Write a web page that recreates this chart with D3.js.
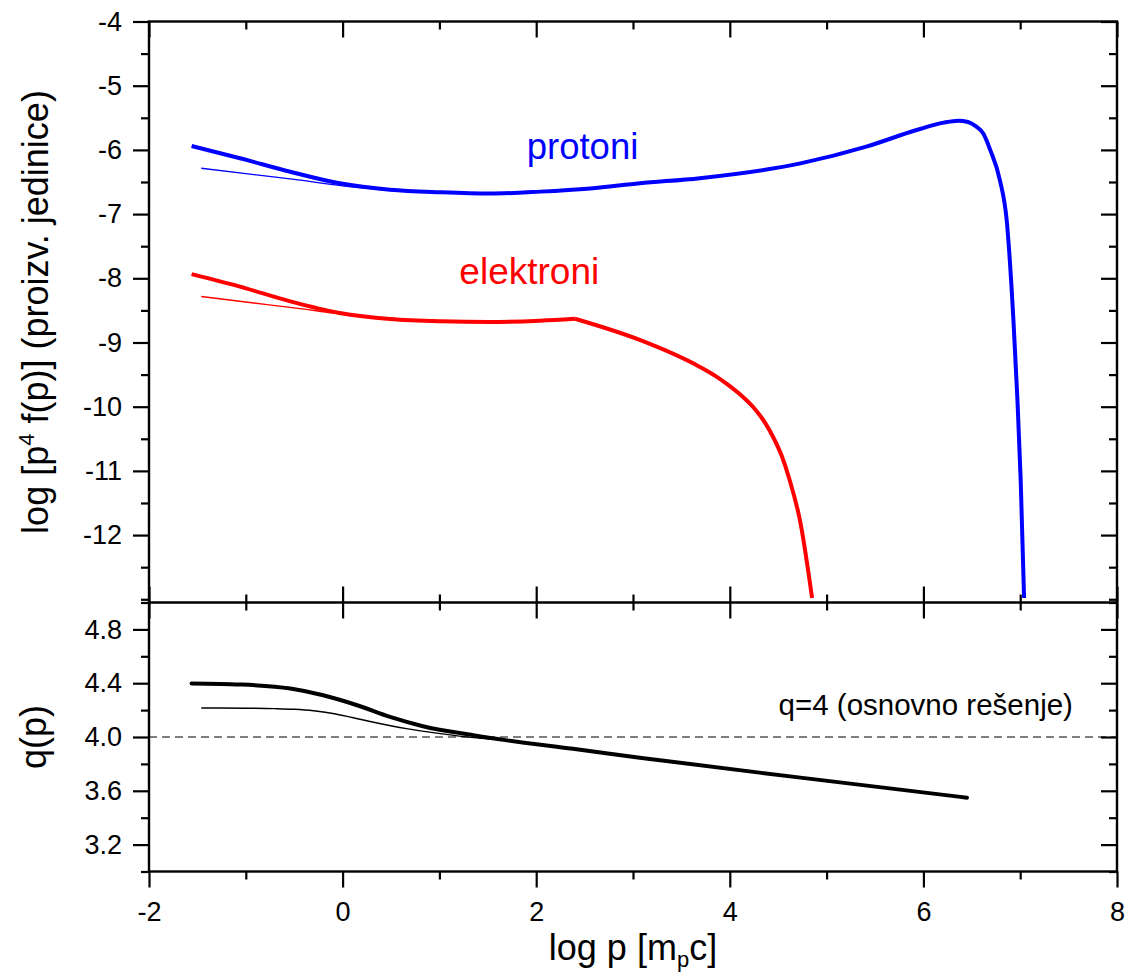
<!DOCTYPE html>
<html>
<head>
<meta charset="utf-8">
<script src="https://cdn.jsdelivr.net/npm/d3@7"></script>
<style>
  body { margin: 0; background: #fff; }
  svg { display: block; font-family: "Liberation Sans", Arial, sans-serif; }
</style>
</head>
<body>
<div id="chart"></div>
<script>
// ---- data ----
// upper panel: log [p^4 f(p)] vs log p
const protonThickX = [-1.56, -1.06, -0.54, -0.03, 0.49, 1.01, 1.52, 2.04, 2.56, 3.07, 3.69, 4.73, 5.41, 5.93, 6.21, 6.36, 6.46, 6.54, 6.62, 6.69, 6.79, 6.86, 6.93, 6.97, 7.005, 7.04];
const protonThickY = [-5.94, -6.13, -6.34, -6.52, -6.62, -6.66, -6.68, -6.65, -6.60, -6.52, -6.44, -6.21, -5.95, -5.69, -5.575, -5.545, -5.565, -5.63, -5.75, -6.00, -6.47, -7.09, -8.65, -9.85, -11.14, -12.98];

const protonThinX = [-1.46, -1.0, -0.5, 0.0, 0.5, 1.0, 1.52, 2.04, 2.56, 3.07, 3.69, 4.73, 5.41, 5.93, 6.21, 6.36, 6.46, 6.54, 6.62, 6.69, 6.79, 6.86, 6.93, 6.97, 7.005, 7.04];
const protonThinY = [-6.285, -6.37, -6.46, -6.56, -6.63, -6.665, -6.68, -6.65, -6.60, -6.52, -6.44, -6.21, -5.95, -5.69, -5.575, -5.545, -5.565, -5.63, -5.75, -6.00, -6.47, -7.09, -8.65, -9.85, -11.14, -12.98];

// electrons: two pieces, the curve has a sharp break at log p ~ 2.4
const electronLowX = [-1.56, -1.06, -0.54, -0.03, 0.49, 1.01, 1.52, 2.04, 2.40];
const electronLowY = [-7.935, -8.13, -8.36, -8.54, -8.635, -8.67, -8.68, -8.66, -8.63];
const electronHighX = [2.40, 3.07, 3.69, 3.85, 4.00, 4.13, 4.25, 4.36, 4.45, 4.54, 4.61, 4.73, 4.85];
const electronHighY = [-8.63, -8.96, -9.38, -9.52, -9.68, -9.84, -10.02, -10.24, -10.48, -10.78, -11.10, -11.81, -12.98];

const electronThinX = [-1.46, -1.0, -0.5, 0.0, 0.5, 1.0, 1.52, 2.04];
const electronThinY = [-8.283, -8.37, -8.46, -8.56, -8.63, -8.665, -8.68, -8.66];

// lower panel: q(p)
const qThickX = [-1.56, -1.06, -0.54, -0.2, 0.15, 0.49, 0.83, 1.35, 1.70, 2.38, 3.07, 4.73, 6.45];
const qThickY = [4.398, 4.39, 4.36, 4.31, 4.236, 4.149, 4.08, 4.013, 3.975, 3.913, 3.846, 3.698, 3.549];
const qThinX = [-1.46, -1.0, -0.7, -0.5, -0.3, -0.1, 0.1, 0.32, 0.66, 1.01, 1.35, 1.70, 2.38];
const qThinY = [4.216, 4.214, 4.211, 4.206, 4.195, 4.175, 4.145, 4.11, 4.062, 4.025, 3.995, 3.975, 3.913];

const qReference = 4;

// ticks
const xMajor = [-2, 0, 2, 4, 6, 8];
const xMinor = [-1, 1, 3, 5, 7];
const topMajor = [-4, -5, -6, -7, -8, -9, -10, -11, -12];
const topMinor = [-4.5, -5.5, -6.5, -7.5, -8.5, -9.5, -10.5, -11.5, -12.5, -13];
const botMajor = [3.2, 3.6, 4.0, 4.4, 4.8];
const botMinor = [3.0, 3.4, 3.8, 4.2, 4.6, 5.0];

// ---- layout ----
const W = 1131, H = 979;
const left = 149, right = 1117;
const topY0 = 21.5, split = 602.5, botY1 = 871.5;
const majorLen = 16, minorLen = 8;

const svg = d3.select("#chart").append("svg")
    .attr("width", W).attr("height", H);

const x = d3.scaleLinear().domain([-2, 8]).range([left, right]);
const yTop = d3.scaleLinear().domain([-13.05, -4]).range([split, topY0]);
const yBot = d3.scaleLinear().domain([3, 5]).range([botY1, split]);

// clip paths for each panel
const defs = svg.append("defs");
defs.append("clipPath").attr("id", "clipTop")
    .append("rect").attr("x", left).attr("y", topY0).attr("width", right - left).attr("height", split - topY0);
defs.append("clipPath").attr("id", "clipBot")
    .append("rect").attr("x", left).attr("y", split).attr("width", right - left).attr("height", botY1 - split);

const zip = (xs, ys) => xs.map((v, i) => [v, ys[i]]);

const lineTop = d3.line().x(d => x(d[0])).y(d => yTop(d[1])).curve(d3.curveMonotoneX);
const lineBot = d3.line().x(d => x(d[0])).y(d => yBot(d[1])).curve(d3.curveMonotoneX);

// ---- curves ----
const gTop = svg.append("g").attr("clip-path", "url(#clipTop)");

gTop.append("path").datum(zip(protonThinX, protonThinY))
    .attr("d", lineTop).attr("fill", "none").attr("stroke", "#0000ff").attr("stroke-width", 1.4);
gTop.append("path").datum(zip(protonThickX, protonThickY))
    .attr("d", lineTop).attr("fill", "none").attr("stroke", "#0000ff").attr("stroke-width", 4);

gTop.append("path").datum(zip(electronThinX, electronThinY))
    .attr("d", lineTop).attr("fill", "none").attr("stroke", "#ff0000").attr("stroke-width", 1.4);
[zip(electronLowX, electronLowY), zip(electronHighX, electronHighY)].forEach(seg => {
    gTop.append("path").datum(seg)
        .attr("d", lineTop).attr("fill", "none").attr("stroke", "#ff0000")
        .attr("stroke-width", 4).attr("stroke-linejoin", "miter");
});

const gBot = svg.append("g").attr("clip-path", "url(#clipBot)");

// q = 4 reference
gBot.append("line")
    .attr("x1", x(-2)).attr("x2", x(8))
    .attr("y1", yBot(qReference)).attr("y2", yBot(qReference))
    .attr("stroke", "#555").attr("stroke-width", 1.3).attr("stroke-dasharray", "8,5");

gBot.append("path").datum(zip(qThinX, qThinY))
    .attr("d", lineBot).attr("fill", "none").attr("stroke", "#000").attr("stroke-width", 1.4);
gBot.append("path").datum(zip(qThickX, qThickY))
    .attr("d", lineBot).attr("fill", "none").attr("stroke", "#000").attr("stroke-width", 4)
    .attr("stroke-linecap", "round");

// ---- axes ----
const axisStyle = g => {
    g.select(".domain").remove();
    g.selectAll(".tick line").attr("stroke", "#000").attr("stroke-width", 2.2);
    g.selectAll(".tick text")
        .attr("fill", "#000")
        .style("font-size", "27px")
        .style("font-family", "\"Liberation Sans\", Arial, sans-serif");
};

function drawAxis(axisFn, scale, values, len, transform, labelled, fmt, pad) {
    const a = axisFn(scale).tickValues(values).tickSize(len).tickSizeOuter(0)
        .tickPadding(pad || 8)
        .tickFormat(labelled ? fmt : () => "");
    svg.append("g").attr("transform", transform).call(a).call(axisStyle);
}

const fmtInt = d => String(d);
const fmtDec = d3.format(".1f");

// left axes (outward ticks)
drawAxis(d3.axisLeft, yTop, topMajor, majorLen, `translate(${left},0)`, true, fmtInt, 11);
drawAxis(d3.axisLeft, yTop, topMinor, minorLen, `translate(${left},0)`, false);
drawAxis(d3.axisLeft, yBot, botMajor, majorLen, `translate(${left},0)`, true, fmtDec, 11);
drawAxis(d3.axisLeft, yBot, botMinor, minorLen, `translate(${left},0)`, false);

// right axes (inward ticks)
drawAxis(d3.axisRight, yTop, topMajor, -majorLen, `translate(${right},0)`, false);
drawAxis(d3.axisRight, yTop, topMinor, -minorLen, `translate(${right},0)`, false);
drawAxis(d3.axisRight, yBot, botMajor, -majorLen, `translate(${right},0)`, false);
drawAxis(d3.axisRight, yBot, botMinor, -minorLen, `translate(${right},0)`, false);

// top border (inward ticks)
drawAxis(d3.axisTop, x, xMajor, -majorLen, `translate(0,${topY0})`, false);
drawAxis(d3.axisTop, x, xMinor, -minorLen, `translate(0,${topY0})`, false);

// shared middle border: ticks cross both sides
drawAxis(d3.axisTop, x, xMajor, majorLen, `translate(0,${split})`, false);
drawAxis(d3.axisTop, x, xMinor, minorLen, `translate(0,${split})`, false);
drawAxis(d3.axisBottom, x, xMajor, majorLen, `translate(0,${split})`, false);
drawAxis(d3.axisBottom, x, xMinor, minorLen, `translate(0,${split})`, false);

// bottom axis (outward ticks)
drawAxis(d3.axisBottom, x, xMajor, majorLen, `translate(0,${botY1})`, true, fmtInt, 14);
drawAxis(d3.axisBottom, x, xMinor, minorLen, `translate(0,${botY1})`, false);

// frame lines
const frame = svg.append("g").attr("stroke", "#000").attr("stroke-width", 2.4).attr("fill", "none");
frame.append("rect").attr("x", left).attr("y", topY0).attr("width", right - left).attr("height", botY1 - topY0);
frame.append("line").attr("x1", left).attr("x2", right).attr("y1", split).attr("y2", split);

// ---- labels ----
const font = "\"Liberation Sans\", Arial, sans-serif";

svg.append("text")
    .attr("x", x(1.902)).attr("y", yTop(-6.146))
    .attr("fill", "#0000ff").style("font-size", "36.5px").style("font-family", font)
    .text("protoni");

svg.append("text")
    .attr("x", x(1.206)).attr("y", yTop(-8.089))
    .attr("fill", "#ff0000").style("font-size", "37px").style("font-family", font)
    .text("elektroni");

svg.append("text")
    .attr("x", x(7.545)).attr("y", yBot(4.165))
    .attr("text-anchor", "end")
    .attr("fill", "#000").style("font-size", "29.5px").style("font-family", font)
    .text("q=4 (osnovno rešenje)");

// y title, upper
const yt = svg.append("text")
    .attr("transform", `translate(48,${(topY0 + split) / 2}) rotate(-90)`)
    .attr("text-anchor", "middle")
    .attr("fill", "#000").style("font-size", "36px").style("font-family", font);
yt.append("tspan").text("log [p");
yt.append("tspan").attr("dy", "-0.62em").style("font-size", "22px").text("4");
yt.append("tspan").attr("dy", "0.38em").text(" f(p)] (proizv. jedinice)");

// y title, lower
svg.append("text")
    .attr("transform", `translate(46,${(split + botY1) / 2}) rotate(-90)`)
    .attr("text-anchor", "middle")
    .attr("fill", "#000").style("font-size", "36px").style("font-family", font)
    .text("q(p)");

// x title
const xt = svg.append("text")
    .attr("x", (left + right) / 2).attr("y", 960)
    .attr("text-anchor", "middle")
    .attr("fill", "#000").style("font-size", "36px").style("font-family", font);
xt.append("tspan").text("log p [m");
xt.append("tspan").attr("dy", "0.3em").style("font-size", "22px").text("p");
xt.append("tspan").attr("dy", "-0.18em").text("c]");
</script>
</body>
</html>
